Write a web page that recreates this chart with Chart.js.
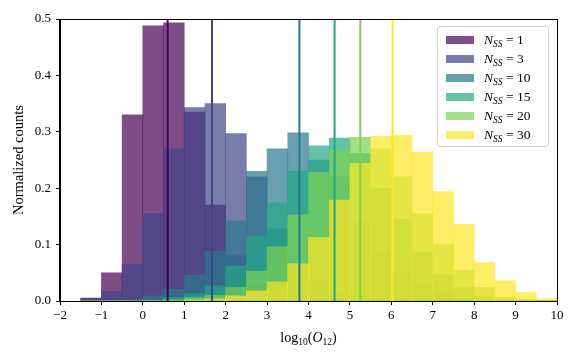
<!DOCTYPE html>
<html>
<head>
<meta charset="utf-8">
<script src="https://cdn.jsdelivr.net/npm/chart.js@4.4.0/dist/chart.umd.min.js"></script>
<style>
  body { margin: 0; background: #fff; }
  #wrap { position: relative; width: 579px; height: 358px; font-family: "Liberation Serif", serif; color: #000; }
  #legend {
    position: absolute; left: 437px; top: 26px; width: 110px;
    padding: 3px 0 2px 0;
    background: rgba(255,255,255,0.8); border: 1px solid #d0d0d0; border-radius: 3px;
    font-size: 13.5px;
  }
  #legend .row { height: 19px; display: flex; align-items: center; padding-left: 8px; }
  #legend .sw { width: 28px; height: 8px; margin-right: 10px; }
  sub { font-size: 9.5px; vertical-align: -3px; line-height: 0; }
  #xtitle { position: absolute; top: 330px; left: 0; width: 617px; text-align: center; font-size: 14px; line-height: 16px; }
</style>
</head>
<body>
<div id="wrap">
  <canvas id="myChart" width="579" height="358"></canvas>
  <div id="legend"></div>
  <div id="xtitle">log<sub>10</sub>(<i>O</i><sub>12</sub>)</div>
</div>
<script>
// histogram bins: left edges, width 0.5
const binStarts = [-1.5, -1, -0.5, 0, 0.5, 1, 1.5, 2, 2.5, 3, 3.5, 4, 4.5, 5, 5.5, 6, 6.5, 7, 7.5, 8, 8.5, 9, 9.5];
const binWidth = 0.5;

const nSS = [1, 3, 10, 15, 20, 30];
const colores = ['#440154', '#414487', '#2a788e', '#22a884', '#7ad151', '#fde725'];

const hist1  = [0.005, 0.05, 0.33, 0.488, 0.493, 0.335, 0.17, 0.08, 0.028, 0.01, 0.004, 0, 0, 0, 0, 0, 0, 0, 0, 0, 0, 0, 0];
const hist3  = [0.005, 0.017, 0.065, 0.155, 0.27, 0.343, 0.35, 0.297, 0.22, 0.128, 0.065, 0.035, 0.015, 0.008, 0.003, 0, 0, 0, 0, 0, 0, 0, 0];
const hist10 = [0, 0, 0.002, 0.009, 0.021, 0.046, 0.088, 0.142, 0.23, 0.27, 0.298, 0.25, 0.22, 0.14, 0.09, 0.05, 0.033, 0.015, 0.005, 0.002, 0, 0, 0];
const hist15 = [0, 0, 0, 0.002, 0.006, 0.013, 0.027, 0.062, 0.114, 0.174, 0.23, 0.275, 0.289, 0.262, 0.2, 0.145, 0.087, 0.046, 0.024, 0.007, 0.002, 0, 0];
const hist20 = [0, 0, 0, 0, 0.002, 0.006, 0.01, 0.024, 0.053, 0.096, 0.153, 0.228, 0.268, 0.29, 0.27, 0.22, 0.155, 0.1, 0.055, 0.024, 0.007, 0.003, 0];
const hist30 = [0, 0, 0, 0, 0, 0.002, 0.004, 0.009, 0.018, 0.034, 0.066, 0.113, 0.179, 0.244, 0.292, 0.294, 0.264, 0.194, 0.136, 0.068, 0.036, 0.015, 0.004];
const histos = [hist1, hist3, hist10, hist15, hist20, hist30];

// vertical lines (means)
const medias = [0.6, 1.67, 3.78, 4.63, 5.25, 6.03];

const xTicks = [-2, -1, 0, 1, 2, 3, 4, 5, 6, 7, 8, 9, 10];
const yTicks = [0, 0.1, 0.2, 0.3, 0.4, 0.5];

const fuente = { family: 'Liberation Serif', size: 13 };

const datasets = [];
histos.forEach((h, i) => {
    datasets.push({
        type: 'bar',
        label: 'N_SS = ' + nSS[i],
        data: binStarts.map((b, j) => ({ x: b + binWidth / 2, y: h[j] })),
        backgroundColor: colores[i] + 'b3',
        borderWidth: 0,
        grouped: false,
        barPercentage: 1,
        categoryPercentage: 1,
        order: 10 - i
    });
});
medias.forEach((m, i) => {
    datasets.push({
        type: 'line',
        data: [{ x: m, y: 0 }, { x: m, y: 0.5 }],
        borderColor: colores[i],
        borderWidth: 2,
        pointRadius: 0,
        fill: false,
        order: 0
    });
});

const marco = {
    id: 'marco',
    afterDraw(chart) {
        const { ctx, chartArea: a } = chart;
        ctx.save();
        ctx.strokeStyle = '#000';
        ctx.lineWidth = 1;
        ctx.strokeRect(Math.round(a.left) - 0.5, Math.round(a.top) + 0.5, Math.round(a.right - a.left) + 1, Math.round(a.bottom - a.top));
        ctx.restore();
    }
};

new Chart('myChart', {
    type: 'bar',
    data: { datasets: datasets },
    options: {
        responsive: false,
        animation: false,
        devicePixelRatio: 1,
        layout: { padding: { top: 19, right: 22, left: 0, bottom: 0 } },
        plugins: { legend: { display: false }, tooltip: { enabled: false } },
        scales: {
            x: {
                type: 'linear',
                min: -2, max: 10,
                offset: false,
                afterFit: s => { s.height = 57; },
                afterBuildTicks: s => { s.ticks = xTicks.map(v => ({ value: v })); },
                grid: { offset: false, drawOnChartArea: false, color: '#000', tickLength: 4 },
                border: { color: '#000' },
                ticks: {
                    font: fuente, color: '#000', padding: 3, maxRotation: 0,
                    callback: v => v < 0 ? '\u2212' + Math.abs(v) : String(v)
                }
            },
            y: {
                min: 0, max: 0.5,
                afterFit: s => { s.width = 60; },
                afterBuildTicks: s => { s.ticks = yTicks.map(v => ({ value: v })); },
                grid: { drawOnChartArea: false, color: '#000', tickLength: 4 },
                border: { color: '#000' },
                ticks: { font: fuente, color: '#000', padding: 5, callback: v => v.toFixed(1) },
                title: { display: true, text: 'Normalized counts', font: { family: 'Liberation Serif', size: 14.5 }, color: '#000', padding: { top: 10, bottom: 0 } }
            }
        }
    },
    plugins: [marco]
});

// legend with subscripts
const leyenda = document.getElementById('legend');
nSS.forEach((n, i) => {
    const fila = document.createElement('div');
    fila.className = 'row';
    fila.innerHTML = '<span class="sw" style="background:' + colores[i] + 'b3"></span>' +
        '<span><i>N</i><sub><i>SS</i></sub> = ' + n + '</span>';
    leyenda.appendChild(fila);
});
</script>
</body>
</html>
